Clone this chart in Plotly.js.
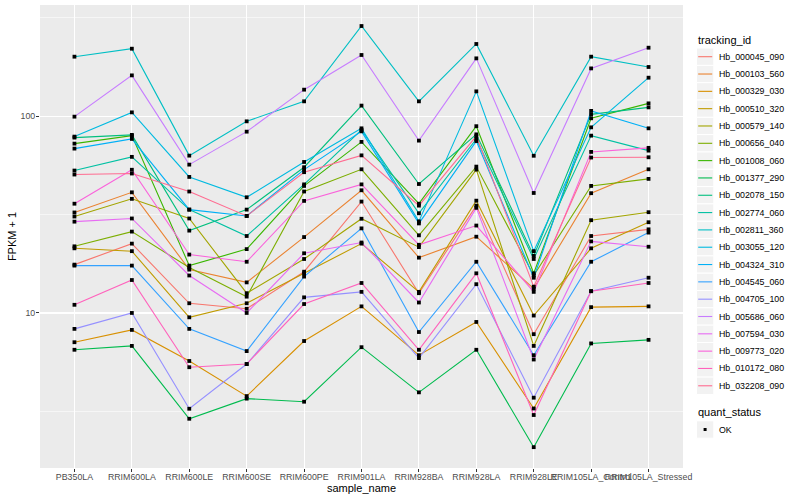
<!DOCTYPE html>
<html><head><meta charset="utf-8">
<script src="https://cdn.plot.ly/plotly-3.0.1.min.js"></script>
<style>html,body{margin:0;padding:0;background:#fff}#chart{width:800px;height:500px}</style>
</head><body><div id="chart"></div>
<script>
// ---- data ----
const samples = ["PB350LA","RRIM600LA","RRIM600LE","RRIM600SE","RRIM600PE","RRIM901LA","RRIM928BA","RRIM928LA","RRIM928LE","RRIM105LA_Control","RRIM105LA_Stressed"];
const trackingIds = ["Hb_000045_090","Hb_000103_560","Hb_000329_030","Hb_000510_320","Hb_000579_140","Hb_000656_040","Hb_001008_060","Hb_001377_290","Hb_002078_150","Hb_002774_060","Hb_002811_360","Hb_003055_120","Hb_004324_310","Hb_004545_060","Hb_004705_100","Hb_005686_060","Hb_007594_030","Hb_009773_020","Hb_010172_080","Hb_032208_090"];
const seriesColors = ["#F8766D","#EA8331","#D89000","#C09B00","#A3A500","#7CAE00","#39B600","#00BB4E","#00BF7D","#00C1A3","#00BFC4","#00BAE0","#00B0F6","#35A2FF","#9590FF","#C77CFF","#E76BF3","#FA62DB","#FF62BC","#FF6C91"];

const hb_000045_090 = [17.6, 22.5, 11.2, 10.5, 16.2, 36.8, 12.6, 35.1, 7.8, 24.6, 26.6];
const hb_000103_560 = [32.4, 41.0, 16.6, 14.3, 24.3, 42.0, 19.1, 24.4, 13.3, 40.6, 53.7];
const hb_000329_030 = [7.1, 8.2, 5.7, 3.78, 7.2, 10.8, 6.1, 9.0, 3.27, 10.7, 10.8];
const hb_000510_320 = [21.3, 20.6, 9.5, 11.2, 15.9, 22.5, 12.8, 37.2, 9.7, 21.3, 28.9];
const hb_000579_140 = [30.9, 38.0, 30.2, 12.6, 18.8, 30.1, 21.6, 53.5, 6.8, 29.6, 32.5];
const hb_000656_040 = [21.8, 25.9, 17.0, 12.1, 41.4, 53.7, 24.8, 55.4, 15.5, 44.2, 48.0];
const hb_001008_060 = [72.5, 79.6, 17.4, 21.1, 44.2, 74.0, 35.9, 88.9, 15.9, 97.5, 116.1];
const hb_001377_290 = [6.5, 6.8, 2.90, 3.67, 3.54, 6.7, 3.95, 6.5, 2.08, 7.0, 7.3];
const hb_002078_150 = [77.8, 80.3, 26.2, 33.5, 55.0, 113.1, 45.2, 80.8, 19.5, 102.1, 110.8];
const hb_002774_060 = [52.9, 62.1, 33.5, 24.6, 45.0, 85.1, 32.1, 76.5, 18.8, 79.6, 66.8];
const hb_002811_360 = [200.5, 220.1, 63.0, 94.1, 118.9, 287, 118.9, 232.6, 62.9, 200.5, 177.7];
const hb_003055_120 = [78.7, 104.5, 49.1, 38.7, 58.5, 86.7, 29.2, 133.6, 20.6, 87.7, 156.8];
const hb_004324_310 = [68.4, 76.6, 33.5, 31.1, 53.5, 83.7, 28.5, 74.7, 15.1, 106.3, 86.7];
const hb_004545_060 = [17.4, 17.4, 8.3, 6.4, 15.3, 26.9, 8.0, 18.2, 6.1, 18.2, 25.6];
const hb_004705_100 = [8.3, 10.0, 3.26, 5.5, 12.0, 12.8, 5.9, 14.0, 3.71, 12.9, 15.1];
const hb_005686_060 = [99.4, 161.1, 56.7, 83.4, 136.3, 204.5, 75.1, 196.6, 40.7, 174.8, 222.7];
const hb_007594_030 = [29.1, 30.2, 15.5, 10.0, 20.1, 22.8, 11.3, 34.2, 5.8, 23.1, 21.7];
const hb_009773_020 = [35.9, 53.4, 19.8, 18.2, 37.1, 45.0, 22.2, 27.8, 12.8, 65.8, 69.0];
const hb_010172_080 = [11.0, 14.7, 5.3, 5.5, 11.1, 14.2, 6.5, 15.9, 3.03, 12.9, 14.2];
const hb_032208_090 = [50.5, 51.1, 41.4, 31.1, 51.9, 63.2, 35.1, 79.1, 13.6, 61.6, 61.8];

const seriesValues = [hb_000045_090, hb_000103_560, hb_000329_030, hb_000510_320, hb_000579_140, hb_000656_040, hb_001008_060, hb_001377_290, hb_002078_150, hb_002774_060, hb_002811_360, hb_003055_120, hb_004324_310, hb_004545_060, hb_004705_100, hb_005686_060, hb_007594_030, hb_009773_020, hb_010172_080, hb_032208_090];
const quantStatus = ["OK"];
const yTickVals = [10, 100];
const yMinorVals = [3.1623, 31.623, 316.23];

// ---- traces ----
const traces = [];
seriesValues.forEach((vals, i) => {
  traces.push({
    type: 'scatter', mode: 'lines', name: trackingIds[i],
    x: samples, y: vals,
    line: {color: seriesColors[i], width: 1.1},
    showlegend: false, hoverinfo: 'skip'
  });
});
// points on top of all lines (geom_point)
const allX = [], allY = [];
seriesValues.forEach(vals => vals.forEach((v, j) => { allX.push(samples[j]); allY.push(v); }));
traces.push({
  type: 'scatter', mode: 'markers', name: quantStatus[0],
  x: allX, y: allY,
  marker: {color: '#000000', size: 3.8, symbol: 'square'},
  showlegend: false, hoverinfo: 'skip'
});

// ---- manual ggplot-style legend (paper coords) ----
const PL = 40, PR = 683, PT = 5, PB = 468;
const ppx = x => (x - PL) / (PR - PL);
const ppy = y => (PB - y) / (PB - PT);
const shapes = [], annotations = [];
const font = "Liberation Sans, Arial, sans-serif";
annotations.push({xref:'paper', yref:'paper', x: ppx(696), y: ppy(40), xanchor:'left', yanchor:'middle',
  text:'tracking_id', showarrow:false, font:{family:font, size:11, color:'#000'}});
const step = 17.32, y0 = 56.7;
trackingIds.forEach((id, i) => {
  const yc = y0 + i * step;
  shapes.push({type:'rect', xref:'paper', yref:'paper', x0: ppx(696.5), x1: ppx(713.8), y0: ppy(yc - step/2), y1: ppy(yc + step/2),
    fillcolor:'#F2F2F2', line:{color:'#FFFFFF', width:1}});
  shapes.push({type:'line', xref:'paper', yref:'paper', x0: ppx(698.2), x1: ppx(712.2), y0: ppy(yc), y1: ppy(yc),
    line:{color: seriesColors[i], width:1.1}});
  annotations.push({xref:'paper', yref:'paper', x: ppx(716.5), y: ppy(yc), xanchor:'left', yanchor:'middle',
    text: id, showarrow:false, font:{family:font, size:8.8, color:'#000'}});
});
annotations.push({xref:'paper', yref:'paper', x: ppx(696), y: ppy(411.5), xanchor:'left', yanchor:'middle',
  text:'quant_status', showarrow:false, font:{family:font, size:11, color:'#000'}});
const okY = 429.5;
shapes.push({type:'rect', xref:'paper', yref:'paper', x0: ppx(696.5), x1: ppx(713.8), y0: ppy(okY - step/2), y1: ppy(okY + step/2),
  fillcolor:'#F2F2F2', line:{color:'#FFFFFF', width:1}});
shapes.push({type:'rect', xref:'paper', yref:'paper', x0: ppx(703.6), x1: ppx(706.6), y0: ppy(okY - 1.5), y1: ppy(okY + 1.5),
  fillcolor:'#000000', line:{width:0}});
annotations.push({xref:'paper', yref:'paper', x: ppx(716.5), y: ppy(okY), xanchor:'left', yanchor:'middle',
  text: quantStatus[0], showarrow:false, font:{family:font, size:8.8, color:'#000'}});

const layout = {
  width: 800, height: 500,
  margin: {l: PL, r: 800 - PR, t: PT, b: 500 - PB},
  paper_bgcolor: '#FFFFFF', plot_bgcolor: '#EBEBEB',
  font: {family: font, color: '#000'},
  showlegend: false,
  xaxis: {
    type: 'category', range: [-0.6, 10.6], tickangle: 0,
    showgrid: true, gridcolor: '#FFFFFF', gridwidth: 1.1, zeroline: false, showline: false,
    ticks: 'outside', ticklen: 3, tickwidth: 1, tickcolor: '#333333',
    ticklabelstandoff: -3,
    tickfont: {family: font, size: 8.8, color: '#4D4D4D'},
    title: {text: 'sample_name', font: {family: font, size: 11, color: '#000'}, standoff: 0},
    automargin: false, fixedrange: true
  },
  yaxis: {
    type: 'log', range: [Math.log10(1.63), Math.log10(367)],
    tickmode: 'array', tickvals: yTickVals, ticktext: yTickVals.map(String),
    showgrid: true, gridcolor: '#FFFFFF', gridwidth: 1.1, zeroline: false, showline: false,
    minor: {tickmode: 'array', tickvals: yMinorVals, showgrid: true, gridcolor: '#FFFFFF', gridwidth: 0.55, ticks: ''},
    ticks: 'outside', ticklen: 3, tickwidth: 1, tickcolor: '#333333',
    ticklabelstandoff: -1,
    tickfont: {family: font, size: 8.8, color: '#4D4D4D'},
    title: {text: 'FPKM + 1', font: {family: font, size: 11, color: '#000'}, standoff: 1},
    automargin: false, fixedrange: true
  },
  shapes: shapes,
  annotations: annotations
};
Plotly.newPlot('chart', traces, layout, {displayModeBar: false, staticPlot: true});
</script>
</body></html>
